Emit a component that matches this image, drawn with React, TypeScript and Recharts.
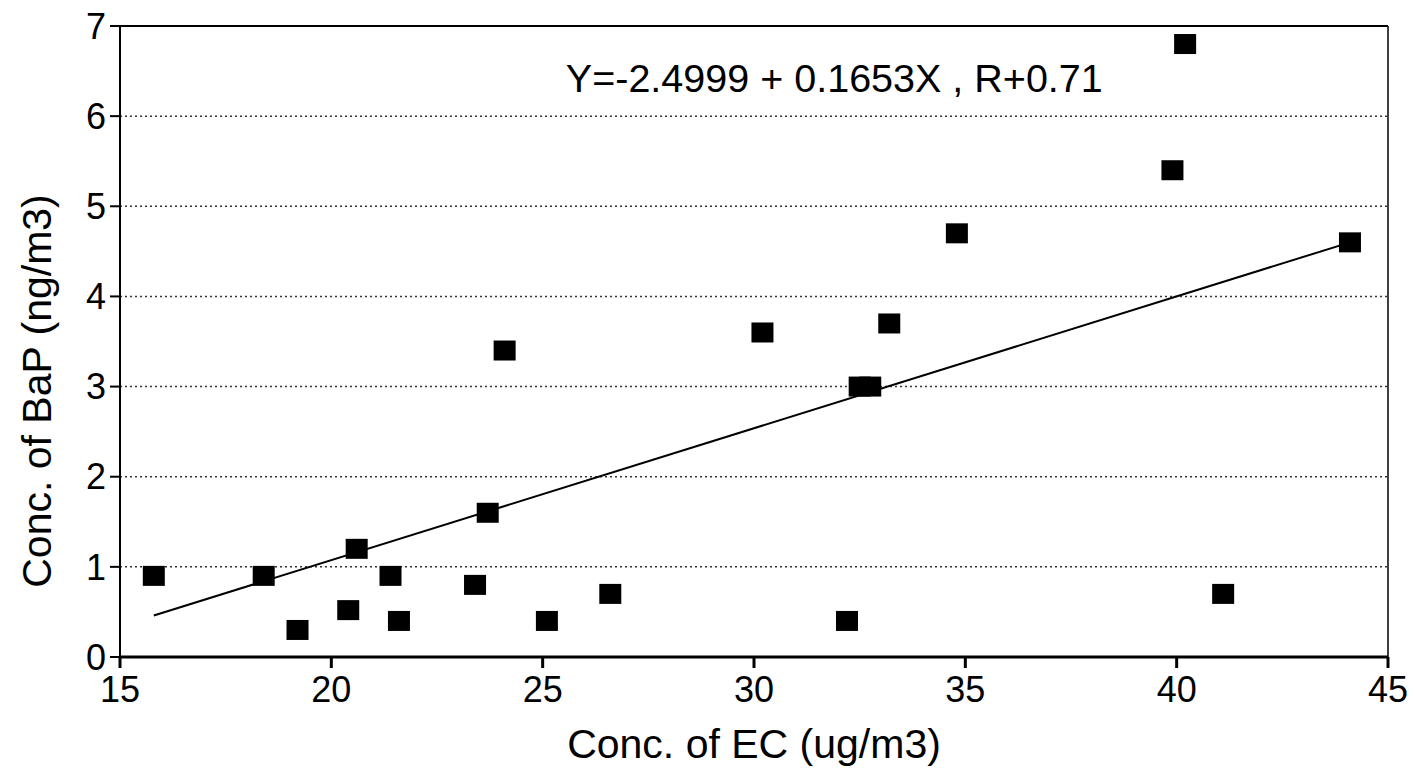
import { ScatterChart, Scatter, XAxis, YAxis, CartesianGrid, ReferenceLine, ReferenceDot, Label } from 'recharts';

const ecValues = [15.8, 18.4, 19.2, 20.4, 20.6, 21.4, 21.6, 23.4, 23.7, 24.1, 25.1, 26.6, 30.2, 32.2, 32.5, 32.75, 33.2, 34.8, 39.9, 40.2, 41.1, 44.1];
const bapValues = [0.9, 0.9, 0.3, 0.52, 1.2, 0.9, 0.4, 0.8, 1.6, 3.4, 0.4, 0.7, 3.6, 0.4, 3.0, 3.0, 3.7, 4.7, 5.4, 6.8, 0.7, 4.6];

// fitted line as drawn in the figure
const trendX = [15.8, 44.1];
const trendY = [0.46, 4.6];

const xTicks = [15, 20, 25, 30, 35, 40, 45];
const yTicks = [0, 1, 2, 3, 4, 5, 6, 7];

const equation = 'Y=-2.4999 + 0.1653X , R+0.71';

const points = ecValues.map((x, i) => ({ x, y: bapValues[i] }));
const trend = trendX.map((x, i) => ({ x, y: trendY[i] }));

const font = '"Liberation Sans", Arial, sans-serif';

const Square = (props: any) => (
  <rect x={props.cx - 11} y={props.cy - 10} width={22} height={20} fill="#000" />
);

export default function App() {
  return (
    <div style={{ position: 'absolute', left: 0, top: 0, background: '#fff', fontFamily: font }}>
      <ScatterChart width={1414} height={776} margin={{ top: 26, right: 26, bottom: 0, left: 0 }}>
        <CartesianGrid horizontal vertical={false} stroke="#333" strokeDasharray="2 3" strokeWidth={1.5} />
        <XAxis
          type="number"
          dataKey="x"
          domain={[15, 45]}
          ticks={xTicks}
          height={119}
          tickSize={11}
          tickMargin={8}
          stroke="#000"
          strokeWidth={3}
          tick={{ fill: '#000', fontSize: 36, fontFamily: font }}
        >
          <Label value="Conc. of EC (ug/m3)" position="insideBottom" offset={18} style={{ fontSize: 41, fill: '#000', fontFamily: font }} />
        </XAxis>
        <YAxis
          type="number"
          dataKey="y"
          domain={[0, 7]}
          ticks={yTicks}
          width={120}
          tickSize={10}
          tickMargin={4}
          stroke="#000"
          strokeWidth={2}
          tick={{ fill: '#000', fontSize: 36, fontFamily: font }}
        >
          <Label
            content={() => (
              <text x={37} y={391} transform="rotate(-90 37 391)" textAnchor="middle" dominantBaseline="central" style={{ fontSize: 41, fill: '#000', fontFamily: font }}>
                Conc. of BaP (ng/m3)
              </text>
            )}
          />
        </YAxis>
        <ReferenceLine y={7} stroke="#000" strokeWidth={2} />
        <ReferenceLine x={45} stroke="#000" strokeWidth={1.5} />
        <Scatter data={trend} line={{ stroke: '#000', strokeWidth: 2 }} shape={() => null} isAnimationActive={false} />
        <Scatter data={points} shape={Square} isAnimationActive={false} />
        <ReferenceDot x={31.9} y={6.42} r={0} stroke="none" fill="none" label={{ value: equation, position: 'center', style: { fontSize: 39.5, fill: '#000', fontFamily: font } }} />
      </ScatterChart>
    </div>
  );
}
